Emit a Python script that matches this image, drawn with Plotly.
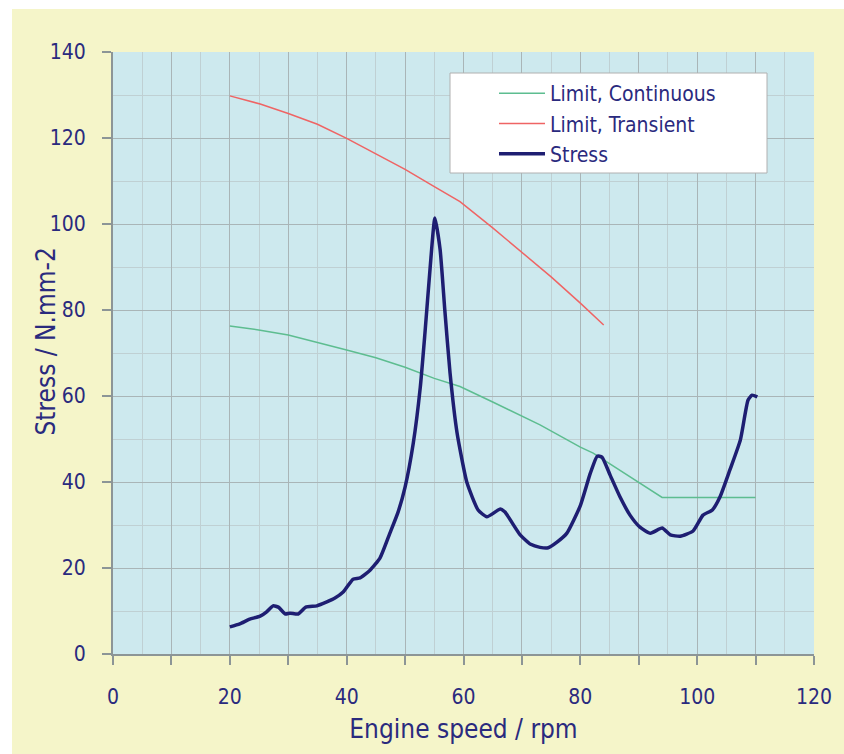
import plotly.graph_objects as go

# ---- data ----
cont_x = [20, 25.2, 30, 35, 40, 45, 50, 55, 59.4, 65, 70, 73.1, 80, 82.2, 85, 90, 94, 110]
cont_y = [76.3, 75.3, 74.2, 72.5, 70.7, 68.9, 66.7, 64.1, 62.2, 58.6, 55.4, 53.3, 48.1, 46.7, 44.3, 40.0, 36.4, 36.4]

trans_x = [20, 25.2, 30, 35, 40, 45, 50, 55, 59.4, 65, 70, 75, 80, 84]
trans_y = [129.8, 127.9, 125.7, 123.2, 119.9, 116.3, 112.7, 108.7, 105.2, 99.1, 93.5, 87.7, 81.6, 76.5]

stress_x = [20.0, 21.7, 23.4, 25.2, 26.3, 27.4, 28.3, 29.5, 30.3, 31.7, 33.0, 34.9, 36.6, 38.0,
            39.4, 41.1, 42.3, 44.0, 45.7, 47.4, 48.8, 50.0, 51.4, 52.6, 53.4, 54.3, 55.1, 56.0,
            56.8, 57.7, 58.9, 60.6, 62.5, 64.0, 66.3, 67.1, 69.7, 71.5, 73.1, 74.5, 76.0, 77.7,
            80.0, 81.7, 82.9, 83.7, 85.1, 86.8, 88.5, 90.2, 92.0, 94.0, 95.4, 97.1, 99.3, 101.0,
            102.6, 103.9, 105.6, 107.4, 108.7, 109.4, 110.3]
stress_y = [6.3, 7.0, 8.1, 8.8, 9.8, 11.2, 10.9, 9.3, 9.5, 9.3, 10.9, 11.2, 12.1, 13.0,
            14.4, 17.4, 17.7, 19.5, 22.3, 28.1, 33.0, 38.8, 49.0, 62.0, 74.6, 90.0, 101.4, 94.0,
            80.0, 65.3, 51.4, 39.8, 33.5, 31.9, 33.7, 33.0, 27.7, 25.5, 24.8, 24.7, 26.0, 28.1,
            34.5, 42.0, 46.0, 45.8, 41.6, 36.5, 32.3, 29.5, 28.1, 29.3, 27.7, 27.4, 28.6, 32.3,
            33.5, 36.5, 42.8, 49.8, 59.0, 60.2, 59.8]

x_tickvals = [0, 10, 20, 30, 40, 50, 60, 70, 80, 90, 100, 110, 120]
x_ticktext = ["0", "", "20", "", "40", "", "60", "", "80", "", "100", "", "120"]
y_tickvals = [0, 20, 40, 60, 80, 100, 120, 140]

x_title = "Engine speed / rpm"
y_title = "Stress / N.mm-2"

# ---- styles ----
FONT = "Liberation Sans Narrow, DejaVu Sans Condensed, Arial Narrow, sans-serif"
NAVY = "#2a2a7e"
YELLOW = "#f5f5c9"
PLOTBG = "#cde9ee"
MAJOR = "#a9b5b7"
MINOR = "#bfd0d3"
AXIS = "#8c9596"

W, H = 844, 754
ML, MR, MT, MB = 113, 30, 52, 100
PW, PH = W - ML - MR, H - MT - MB

def px_to_paper_x(px):
    return (px - ML) / PW

def px_to_paper_y(py):
    return (H - MB - py) / PH

fig = go.Figure()
fig.add_trace(go.Scatter(x=cont_x, y=cont_y, mode="lines", name="Limit, Continuous",
                         line=dict(color="#5dbd90", width=1.5)))
fig.add_trace(go.Scatter(x=trans_x, y=trans_y, mode="lines", name="Limit, Transient",
                         line=dict(color="#ef6464", width=1.5)))
fig.add_trace(go.Scatter(x=stress_x, y=stress_y, mode="lines", name="Stress",
                         line=dict(color="#1e1e72", width=3.5, shape="spline", smoothing=0.5)))

shapes = [
    # white outer margins (left and top) around the yellow card
    dict(type="rect", xref="paper", yref="paper", layer="below",
         x0=px_to_paper_x(-5), x1=px_to_paper_x(12),
         y0=px_to_paper_y(760), y1=px_to_paper_y(-5),
         fillcolor="white", line=dict(width=0)),
    dict(type="rect", xref="paper", yref="paper", layer="below",
         x0=px_to_paper_x(-5), x1=px_to_paper_x(850),
         y0=px_to_paper_y(9), y1=px_to_paper_y(-5),
         fillcolor="white", line=dict(width=0)),
    # legend box
    dict(type="rect", xref="paper", yref="paper", layer="above",
         x0=px_to_paper_x(450), x1=px_to_paper_x(767),
         y0=px_to_paper_y(173), y1=px_to_paper_y(73),
         fillcolor="white", line=dict(color="#b0b0b0", width=1)),
]

annotations = [
    dict(text=y_title, xref="paper", yref="paper", x=px_to_paper_x(45.5), y=px_to_paper_y(342),
         xanchor="center", yanchor="middle", textangle=-90, showarrow=False,
         font=dict(family=FONT, size=26, color=NAVY)),
]

fig.update_layout(
    width=W, height=H,
    margin=dict(l=ML, r=MR, t=MT, b=MB, pad=0),
    paper_bgcolor=YELLOW,
    plot_bgcolor=PLOTBG,
    font=dict(family=FONT, color=NAVY, size=21),
    shapes=shapes,
    annotations=annotations,
    showlegend=True,
    legend=dict(x=px_to_paper_x(494), y=px_to_paper_y(73), xanchor="left", yanchor="top",
                bgcolor="rgba(0,0,0,0)", borderwidth=0, itemwidth=46,
                font=dict(family=FONT, size=21, color=NAVY), tracegroupgap=0),
    xaxis=dict(range=[0, 120], tickmode="array", tickvals=x_tickvals, ticktext=x_ticktext,
               showgrid=True, gridcolor=MAJOR, gridwidth=1,
               minor=dict(dtick=5, tick0=0, showgrid=True, gridcolor=MINOR, gridwidth=1),
               showline=True, linecolor=AXIS, linewidth=2,
               ticks="outside", ticklen=9, tickcolor=AXIS, tickwidth=2,
               ticklabelstandoff=14, zeroline=False,
               title=dict(text=x_title, standoff=12, font=dict(size=26))),
    yaxis=dict(range=[0, 140], tickmode="array", tickvals=y_tickvals,
               showgrid=True, gridcolor=MAJOR, gridwidth=1,
               minor=dict(dtick=10, tick0=0, showgrid=True, gridcolor=MINOR, gridwidth=1),
               showline=True, linecolor=AXIS, linewidth=2,
               ticks="outside", ticklen=9, tickcolor=AXIS, tickwidth=2,
               ticklabelstandoff=12, zeroline=False),
)

fig.write_html("out.html")
